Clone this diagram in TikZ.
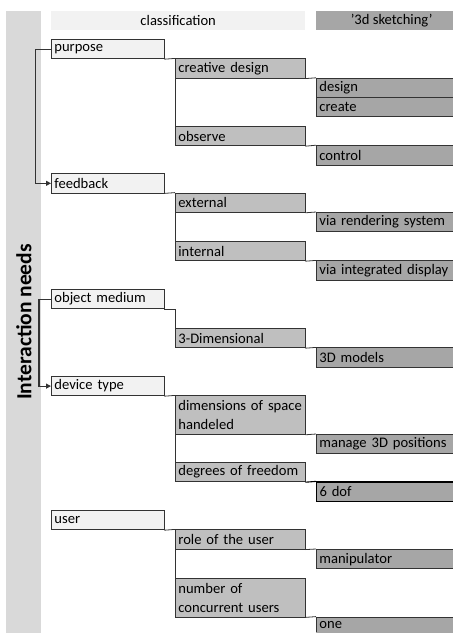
\documentclass[tikz,border=0pt]{standalone}
\usepackage{fontspec}
\setmainfont{Carlito}
\usetikzlibrary{arrows.meta}
\definecolor{barfill}{HTML}{D9D9D9}
\definecolor{lvlone}{HTML}{F2F2F2}
\definecolor{lvltwo}{HTML}{BFBFBF}
\definecolor{lvlthree}{HTML}{A6A6A6}
\definecolor{rule}{HTML}{333333}
\begin{document}
\begin{tikzpicture}[x=1pt,y=-1pt,
  every node/.style={font=\fontsize{14.6}{19}\selectfont, text=black},
  cellbase/.style={anchor=north west, inner xsep=3pt, inner ysep=0pt,
    align=left, draw=rule, line width=0.8pt, minimum height=19.4pt},
  levelone/.style={cellbase, fill=lvlone, minimum width=112.5pt, text width=106.5pt},
  leveltwo/.style={cellbase, fill=lvltwo, minimum width=129.5pt, text width=123.5pt},
  levelthree/.style={cellbase, fill=lvlthree, minimum width=160pt, text width=154pt},
  link/.style={draw=rule, line width=0.8pt},
  jump/.style={draw=rule, line width=1.1pt, -{Triangle[length=5pt,width=5pt]}}]
\useasboundingbox (0,0) rectangle (453,633);
\clip (0,0) rectangle (453,633);

% side band with the vertical title
\fill[barfill] (6,11) rectangle (40.5,640);
\node[rotate=90, font=\fontsize{21.5}{24}\bfseries] (title) at (24,322) {Interaction needs};

% column headers
\node[anchor=north west, fill=lvlone, minimum width=254pt, minimum height=19pt, inner sep=0pt] (hclass) at (51,11) {classification};
\node[anchor=north west, fill=lvlthree, minimum width=151pt, minimum height=19pt, inner sep=0pt] (hsketch) at (316,11) {'3d sketching'};

% purpose
\node[levelone] (purpose) at (51,39) {purpose};
\node[leveltwo] (creative) at (175,58.4) {creative design};
\node[levelthree] (design) at (316,77.8) {design};
\node[levelthree] (create) at (316,96.6) {create};
\node[leveltwo] (observe) at (175,126) {observe};
\node[levelthree] (control) at (316,145.2) {control};

% feedback
\node[levelone] (feedback) at (51,173.2) {feedback};
\node[leveltwo] (external) at (175,192.6) {external};
\node[levelthree] (viarender) at (316,212) {via rendering system};
\node[leveltwo] (internal) at (175,241) {internal};
\node[levelthree] (viadisplay) at (316,260.4) {via integrated display};

% object medium
\node[levelone] (objmed) at (51,289) {object medium};
\node[leveltwo] (threedim) at (175,328) {3-Dimensional};
\node[levelthree] (models) at (316,347.4) {3D models};

% device type
\node[levelone] (device) at (51,376) {device type};
\node[leveltwo, minimum height=38.6pt] (dimensions) at (175,395.4) {dimensions of space\\handeled};
\node[levelthree] (manage) at (316,434) {manage 3D positions};
\node[leveltwo] (dof) at (175,462) {degrees of freedom};
\node[levelthree, line width=1.1pt, draw=black] (sixdof) at (316,481.4) {6 dof};

% user
\node[levelone] (user) at (51,510) {user};
\node[leveltwo] (role) at (175,529.4) {role of the user};
\node[levelthree] (manipulator) at (316,549) {manipulator};
\node[leveltwo, minimum height=38.6pt] (number) at (175,578) {number of\\concurrent users};
\node[levelthree, minimum height=16pt] (one) at (316,616.6) {one};
\fill[lvlthree] (316.4,632.2) rectangle (470,640);

% tree links between the columns
\draw[link] (purpose.south east) -- (creative.north west);
\draw[link] (creative.south west) -- (observe.north west);
\draw[link] (creative.south east) -- (design.north west);
\draw[link] (observe.south east) -- (control.north west);

\draw[link] (feedback.south east) -- (external.north west);
\draw[link] (external.south west) -- (internal.north west);
\draw[link] (external.south east) -- (viarender.north west);
\draw[link] (internal.south east) -- (viadisplay.north west);

\draw[link] (objmed.south east) -| (threedim.north west);
\draw[link] (threedim.south east) -- (models.north west);

\draw[link] (device.south east) -- (dimensions.north west);
\draw[link] (dimensions.south west) -- (dof.north west);
\draw[link] (dimensions.south east) -- (manage.north west);
\draw[link, draw=black, line width=1.1pt] (dof.south east) -- (sixdof.north west);

\draw[link] (user.south east) -- (role.north west);
\draw[link] (role.south west) -- (number.north west);
\draw[link] (role.south east) -- (manipulator.north west);
\draw[link] (number.south east) -- (one.north west);
\draw[link] (one.south west) -- ++(0,8);

% arrows on the left
\draw[jump] (purpose.west) -- ++(-15.5,0) |- (feedback.west);
\draw[jump] (objmed.west) -- ++(-12,0) |- (device.west);
\end{tikzpicture}
\end{document}
